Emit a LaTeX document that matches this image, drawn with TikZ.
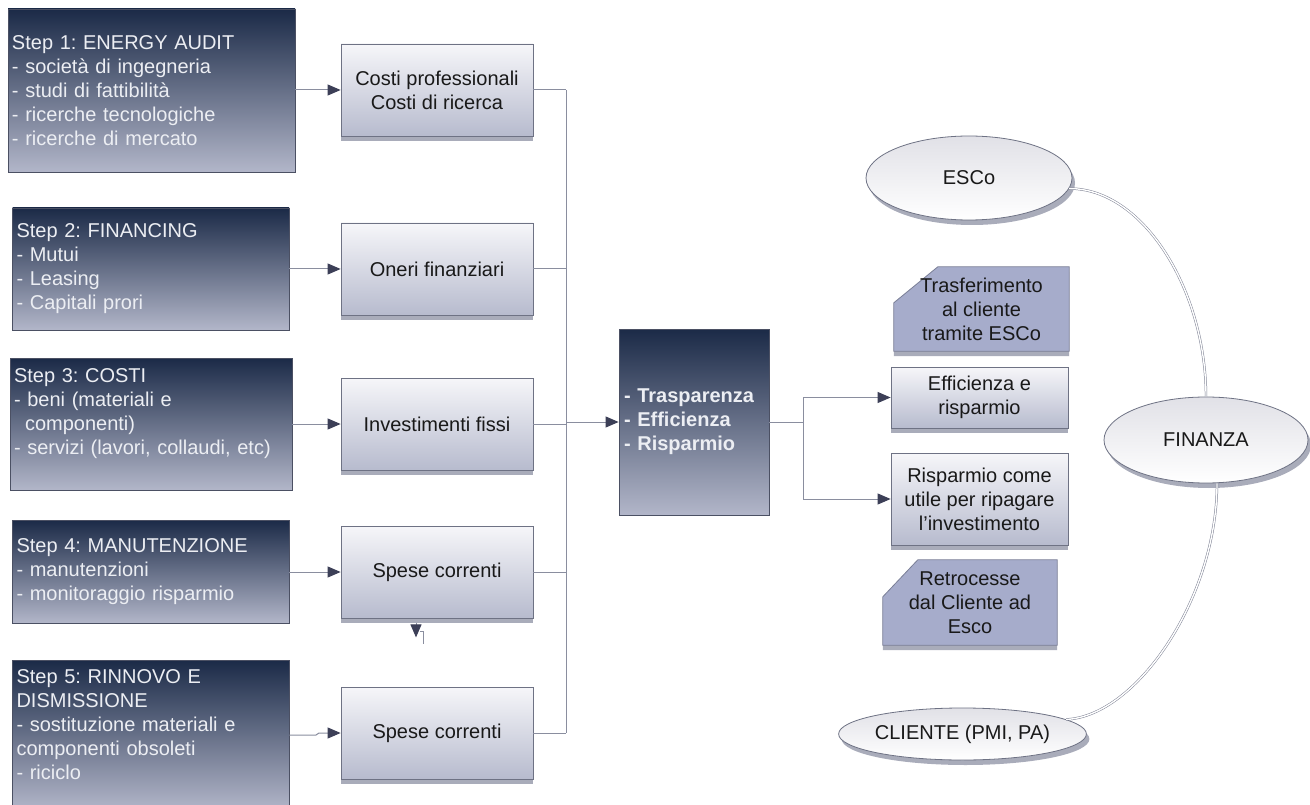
\documentclass[tikz,border=0pt]{standalone}
\usepackage{fontspec}
\setmainfont{Liberation Sans}
\frenchspacing
\usetikzlibrary{arrows.meta,shadows,shapes.geometric,calc}

\definecolor{navytop}{HTML}{1B2A47}
\definecolor{navybot}{HTML}{B2B6C9}
\definecolor{stepline}{HTML}{4B5063}
\definecolor{steptext}{HTML}{ECEEF3}
\definecolor{paletop}{HTML}{F6F6F9}
\definecolor{palebot}{HTML}{B7BBCE}
\definecolor{paleline}{HTML}{6E7284}
\definecolor{shadowgray}{HTML}{A9ACBA}
\definecolor{notefill}{HTML}{A6ACCB}
\definecolor{noteline}{HTML}{7A7F97}
\definecolor{wirec}{HTML}{8A8E9F}
\definecolor{tipc}{HTML}{3C3F57}
\definecolor{ovaltop}{HTML}{E1E1E7}
\definecolor{linkc}{HTML}{7E8294}

\pgfdeclarelayer{background}
\pgfsetlayers{background,main}

\tikzset{
  basefont/.style={font=\fontsize{20}{24}\selectfont},
  stepbox/.style n args={2}{basefont, draw=stepline, line width=0.8pt,
    top color=navytop, bottom color=navybot, text=steptext, align=left,
    inner xsep=4pt, inner ysep=0pt, text width=#1, minimum height=#2},
  costbox/.style n args={2}{basefont, draw=paleline, line width=0.8pt,
    top color=paletop, bottom color=palebot, text=black!90, align=center,
    inner sep=0pt, minimum width=#1, minimum height=#2,
    general shadow={fill=shadowgray, shadow xshift=0pt, shadow yshift=-5pt}},
  notetext/.style n args={2}{basefont, text=black!90, align=center,
    inner sep=0pt, minimum width=#1, minimum height=#2},
  notebody/.style={fill=notefill, draw=noteline, line width=0.8pt,
    preaction={fill=shadowgray, transform canvas={yshift=-5pt}}},
  oval/.style n args={2}{basefont, ellipse, draw=paleline, line width=0.8pt,
    top color=ovaltop, bottom color=white, text=black!90, inner sep=0pt,
    minimum width=#1, minimum height=#2,
    general shadow={fill=shadowgray, shadow xshift=3pt, shadow yshift=-5pt}},
  wire/.style={draw=wirec, line width=1pt},
  arrowto/.style={-{Triangle[length=13pt,width=11pt,color=tipc]}},
  link/.style={draw=linkc, line width=0.5pt, double=white, double distance=1.4pt},
}

\begin{document}
\begin{tikzpicture}[x=1pt,y=-1pt]
\useasboundingbox (0,0) rectangle (1310,805);
\begin{pgfonlayer}{background}
  \fill[white] (0,0) rectangle (1310,805);
\end{pgfonlayer}

% left column: the five steps
\node[stepbox={279pt}{163pt}] (s1) at (151.5,90.5)
  {Step 1: ENERGY AUDIT\\- società di ingegneria\\- studi di fattibilità\\- ricerche tecnologiche\\- ricerche di mercato};
\node[stepbox={268.5pt}{122pt}] (s2) at (150.75,269)
  {Step 2: FINANCING\\- Mutui\\- Leasing\\- Capitali prori};
\node[stepbox={274pt}{132pt}] (s3) at (151,424)
  {Step 3: COSTI\\- beni (materiali e\\\hspace*{11pt}componenti)\\- servizi (lavori, collaudi, etc)\\\mbox{}};
\node[stepbox={268.5pt}{103pt}] (s4) at (150.75,571.5)
  {Step 4: MANUTENZIONE\\- manutenzioni\\- monitoraggio risparmio};
\node[stepbox={268.5pt}{150pt}] (s5) at (150.75,735)
  {Step 5: RINNOVO E\\DISMISSIONE\\- sostituzione materiali e\\componenti obsoleti\\- riciclo\\[-4pt]\mbox{}};

% cost categories
\node[costbox={192pt}{92pt}] (m1) at (437,90) {Costi professionali\\Costi di ricerca};
\node[costbox={192pt}{92pt}] (m2) at (437,269) {Oneri finanziari};
\node[costbox={192pt}{92pt}] (m3) at (437,424) {Investimenti fissi};
\node[costbox={192pt}{92pt}] (m4) at (437,572) {Spese correnti};
\node[costbox={192pt}{92pt}] (m5) at (437,733) {Spese correnti};

% central summary
\node[basefont, draw=stepline, line width=0.8pt, top color=navytop, bottom color=navybot,
  text=steptext, align=left, inner xsep=5pt, inner ysep=0pt, text width=140pt,
  minimum height=186pt] (c) at (694,422)
  {\bfseries - Trasparenza\\- Efficienza\\- Risparmio};

% outcomes
\node[costbox={177pt}{61pt}] (r1) at (979.5,397.5) {Efficienza e\\risparmio};
\node[costbox={177pt}{92pt}] (r2) at (979.5,499) {Risparmio come\\utile per ripagare\\l’investimento};

% notes with a cut corner
\node[notetext={175pt}{84pt}] (t1) at (981.5,309) {Trasferimento\\al cliente\\tramite ESCo};
\node[notetext={174pt}{85pt}] (t2) at (970,602.5) {Retrocesse\\dal Cliente ad\\Esco};
\begin{pgfonlayer}{background}
  \path[notebody] (t1.south west) -- (t1.south east) -- (t1.north east)
    -- ([xshift=44pt]t1.north west) -- ([yshift=-36pt]t1.north west) -- cycle;
  \path[notebody] (t2.south west) -- (t2.south east) -- (t2.north east)
    -- ([xshift=35pt]t2.north west) -- ([yshift=-37pt]t2.north west) -- cycle;
\end{pgfonlayer}

% parties
\node[oval={206pt}{84pt}] (esco) at (969,178) {ESCo};
\node[oval={204pt}{86pt}] (fin) at (1206,440) {FINANZA};
\node[oval={199pt}{52pt}] (cli) at (962.5,734) {CLIENTE (PMI, PA)};

% steps to cost categories
\draw[wire, arrowto] (m1.west -| s1.east) -- (m1.west);
\draw[wire, arrowto] (m2.west -| s2.east) -- (m2.west);
\draw[wire, arrowto] (m3.west -| s3.east) -- (m3.west);
\draw[wire, arrowto] (m4.west -| s4.east) -- (m4.west);
\coordinate (j5) at (316,735);
\draw[wire, arrowto] (j5 -| s5.east) -- (j5) -- ++(3,-2) -- (m5.west);

% stub under the first "Spese correnti"
\coordinate (hk) at ([xshift=-21pt]m4.south);
\draw[wire, arrowto] ([yshift=-5pt]hk) -- ([yshift=-19pt]hk);
\draw[wire] ([xshift=4pt,yshift=-13pt]hk) -- ([xshift=7pt,yshift=-13pt]hk) -- ([xshift=7pt,yshift=-26pt]hk);

% collector bus into the summary
\coordinate (bus) at (566,424);
\foreach \m in {m1,m2,m3,m4,m5} \draw[wire] (\m.east) -- (\m.east -| bus);
\draw[wire] (m1.east -| bus) -- (m5.east -| bus);
\draw[wire, arrowto] (c.west -| bus) -- (c.west);

% summary to outcomes
\coordinate (split) at (803,422);
\draw[wire] (c.east) -- (split);
\draw[wire, arrowto] (split) |- (r1.west);
\draw[wire, arrowto] (split) |- (r2.west);

% links between the parties
\draw[link] (esco.-6) .. controls +(75,0) and +(0,-105) .. (fin.north);
\draw[link] (cli.8) .. controls +(70,-3) and +(0,115) .. ([xshift=11pt]fin.south);
\end{tikzpicture}
\end{document}
